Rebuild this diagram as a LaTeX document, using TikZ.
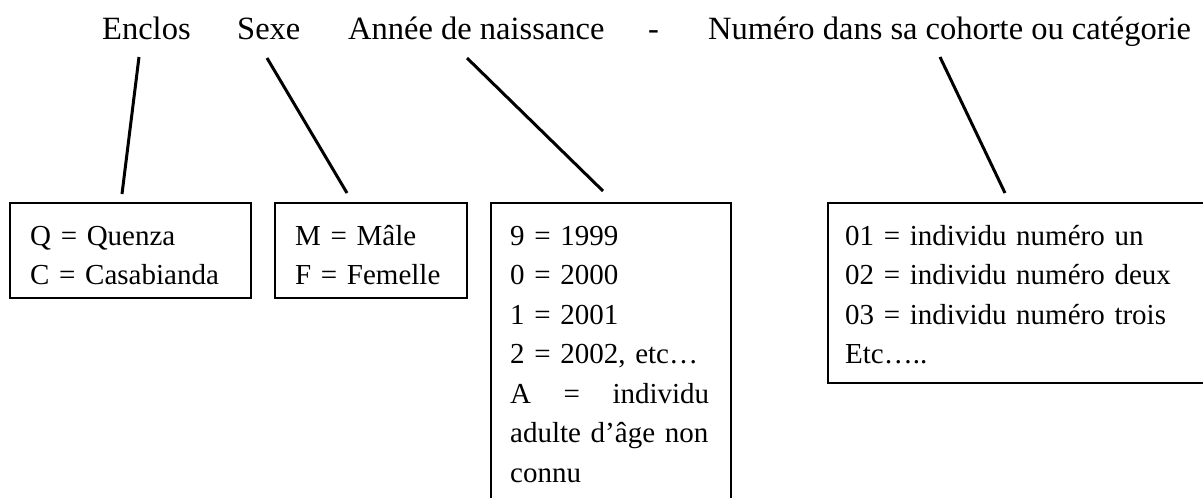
\documentclass[tikz,border=0pt]{standalone}
\usepackage{fontspec}
\setmainfont{Liberation Serif}
\begin{document}
\begin{tikzpicture}[x=1pt,y=-1pt,
  hdr/.style={font=\fontsize{32.5}{39}\selectfont, inner sep=0pt, anchor=base west},
  boxtxt/.style={font=\fontsize{29}{39.5}\selectfont, inner sep=0pt, anchor=north west, align=left, text width=#1},
  frame/.style={draw=black, line width=1.6pt, inner sep=0pt, anchor=north west},
  conn/.style={draw=black, line width=3pt}]
\useasboundingbox[fill=white] (0,0) rectangle (1203,498);

% header
\node[hdr] (h1) at (102,39) {Enclos};
\node[hdr] (h2) at (237,39) {Sexe};
\node[hdr] (h3) at (348,39) {Année de naissance};
\node[hdr] (h4) at (648,39) {-};
\node[hdr] (h5) at (708,39) {Numéro dans sa cohorte ou catégorie};

% frames
\node[frame, minimum width=241pt, minimum height=95pt] (b1) at (9,202) {};
\node[frame, minimum width=192pt, minimum height=95pt] (b2) at (274,202) {};
\node[frame, minimum width=240pt, minimum height=330pt] (b3) at (490,202) {};
\node[frame, minimum width=400pt, minimum height=180pt] (b4) at (827,202) {};

% texts
\node[boxtxt=215pt] (t1) at (30,215) {\rule{0pt}{30pt}Q = Quenza\\C = Casabianda};
\node[boxtxt=165pt] (t2) at (295,215) {\rule{0pt}{30pt}M = Mâle\\F = Femelle};
\node[boxtxt=199pt] (t3) at (510,215) {\rule{0pt}{30pt}9 = 1999\\0 = 2000\\1 = 2001\\2 = 2002, etc…\\A\hfill=\hfill individu\\adulte d’âge non\\connu};
\node[boxtxt=350pt] (t4) at (845,215) {\rule{0pt}{30pt}01 = individu numéro un\\02 = individu numéro deux\\03 = individu numéro trois\\Etc…..};

% connectors
\coordinate (l1a) at (139,57); \coordinate (l1b) at (122,194);
\coordinate (l2a) at (267,58); \coordinate (l2b) at (347,193);
\coordinate (l3a) at (467,58); \coordinate (l3b) at (603,191);
\coordinate (l4a) at (940,57); \coordinate (l4b) at (1005,193);
\draw[conn] (l1a) -- (l1b);
\draw[conn] (l2a) -- (l2b);
\draw[conn] (l3a) -- (l3b);
\draw[conn] (l4a) -- (l4b);
\end{tikzpicture}
\end{document}
